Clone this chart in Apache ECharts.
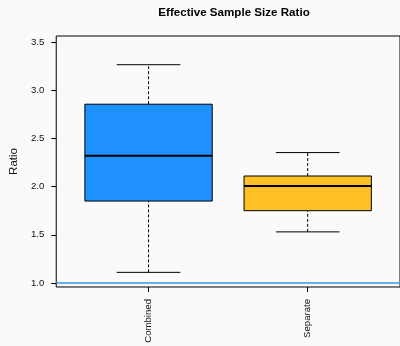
<!DOCTYPE html>
<html>
<head>
<meta charset="utf-8">
<script src="https://cdn.jsdelivr.net/npm/echarts@6/dist/echarts.min.js"></script>
<style>
  html, body { margin: 0; padding: 0; background: #fafafa; }
  #chart { width: 400px; height: 346px; }
</style>
</head>
<body>
<div id="chart"></div>
<script>
// Box summaries per group
const categories = ['Combined', 'Separate'];
const lowerWhisker = [1.11, 1.53];
const lowerQuartile = [1.85, 1.75];
const medians = [2.32, 2.005];
const upperQuartile = [2.855, 2.11];
const upperWhisker = [3.265, 2.353];
const boxColors = ['#1e90ff', '#ffc125'];

// Axis ticks and reference level
const yTicks = [1.0, 1.5, 2.0, 2.5, 3.0, 3.5];
const xPositions = [1, 2];
const referenceLevel = 1.0;

const FONT = 'Liberation Sans, Arial, Helvetica, sans-serif';
const X_MIN = 0.42, X_MAX = 2.58;

const boxData = categories.map((c, i) => [
  xPositions[i], lowerWhisker[i], lowerQuartile[i], medians[i], upperQuartile[i], upperWhisker[i]
]);

function renderBox(params, api) {
  const x = api.value(0);
  const lw = api.value(1), q1 = api.value(2), med = api.value(3), q3 = api.value(4), uw = api.value(5);
  const halfBox = 0.4, halfCap = 0.2;
  const pt = (dx, v) => api.coord([x + dx, v]);
  const line = (a, b, style) => ({
    type: 'line',
    shape: { x1: a[0], y1: a[1], x2: b[0], y2: b[1] },
    style: Object.assign({ stroke: '#000', lineWidth: 1 }, style)
  });
  const tl = pt(-halfBox, q3), br = pt(halfBox, q1);
  return {
    type: 'group',
    children: [
      line(pt(0, q3), pt(0, uw), { lineDash: [3, 2] }),
      line(pt(0, lw), pt(0, q1), { lineDash: [3, 2] }),
      line(pt(-halfCap, uw), pt(halfCap, uw), {}),
      line(pt(-halfCap, lw), pt(halfCap, lw), {}),
      {
        type: 'rect',
        shape: { x: tl[0], y: tl[1], width: br[0] - tl[0], height: br[1] - tl[1] },
        style: { fill: boxColors[params.dataIndex], stroke: '#000', lineWidth: 1 }
      },
      line(pt(-halfBox, med), pt(halfBox, med), { lineWidth: 2 })
    ]
  };
}

const chart = echarts.init(document.getElementById('chart'), null, { renderer: 'canvas' });
chart.setOption({
  backgroundColor: '#fafafa',
  animation: false,
  title: {
    text: 'Effective Sample Size Ratio',
    left: 229,
    textAlign: 'center',
    top: 2,
    textStyle: { fontFamily: FONT, fontSize: 11.6, fontWeight: 'bold', color: '#000' }
  },
  grid: {
    left: 55, top: 36, right: -3, bottom: 59,
    show: true, borderColor: '#000', borderWidth: 1, backgroundColor: 'transparent'
  },
  xAxis: {
    type: 'value',
    min: X_MIN, max: X_MAX,
    splitLine: { show: false },
    axisLine: { show: false },
    axisTick: { show: true, length: 5, inside: false, customValues: xPositions, lineStyle: { color: '#000' } },
    axisLabel: {
      customValues: xPositions,
      rotate: 90,
      margin: 12,
      fontFamily: FONT, fontSize: 9.6, color: '#111',
      formatter: v => categories[Math.round(v) - 1]
    }
  },
  yAxis: {
    type: 'value',
    min: 0.958, max: 3.563,
    name: 'Ratio',
    nameLocation: 'middle',
    nameGap: 34,
    nameTextStyle: { fontFamily: FONT, fontSize: 11.5, color: '#111' },
    splitLine: { show: false },
    axisLine: { show: false },
    axisTick: { show: true, length: 5, inside: false, customValues: yTicks, lineStyle: { color: '#000' } },
    axisLabel: {
      customValues: yTicks,
      margin: 12,
      fontFamily: FONT, fontSize: 9.6, color: '#111',
      formatter: v => v.toFixed(1)
    }
  },
  series: [
    {
      type: 'line',
      silent: true,
      symbol: 'none',
      data: [[X_MIN, referenceLevel], [X_MAX, referenceLevel]],
      lineStyle: { color: '#3a96dd', width: 1.5 },
      z: 1
    },
    {
      type: 'custom',
      renderItem: renderBox,
      encode: { x: 0, y: [1, 2, 3, 4, 5] },
      data: boxData,
      z: 2
    }
  ]
});
</script>
</body>
</html>
